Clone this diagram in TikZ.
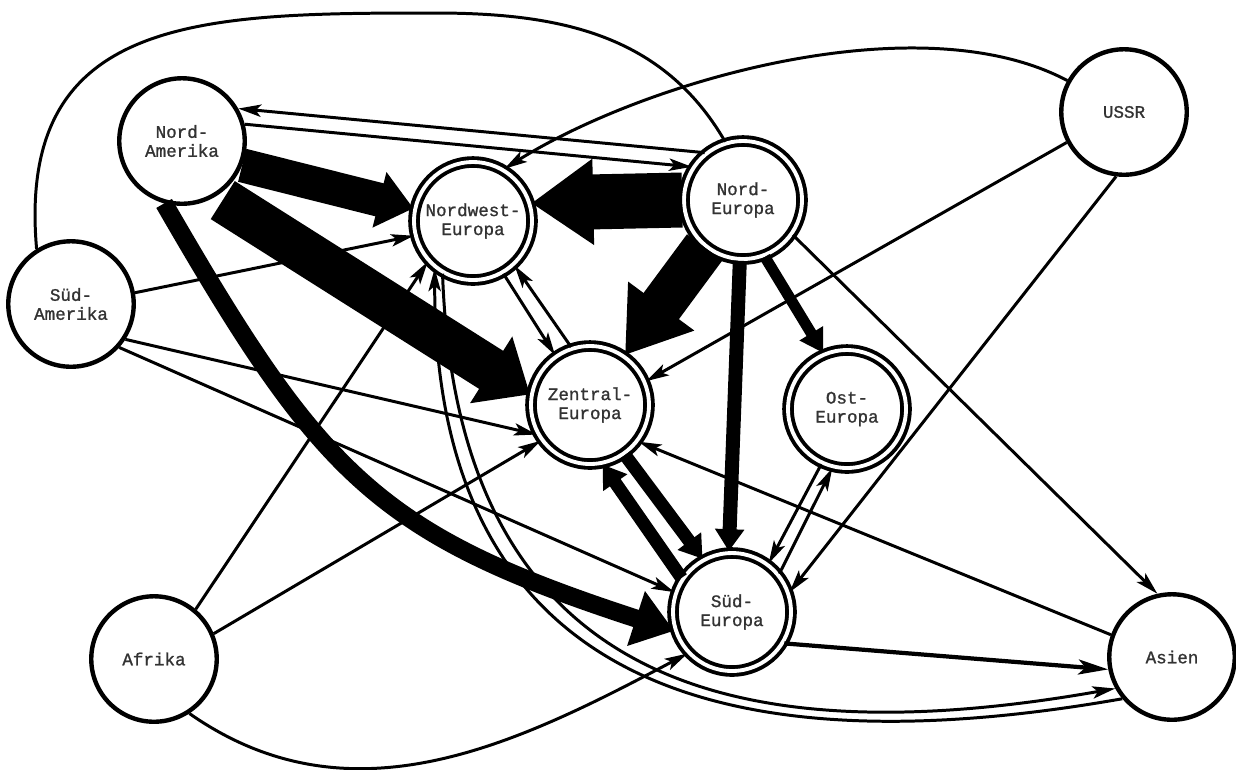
\documentclass[tikz,border=0pt]{standalone}
\usepackage{fontspec}
\setmonofont[FakeBold=1.2]{Liberation Mono}
\usetikzlibrary{arrows.meta}

\begin{document}
\begin{tikzpicture}[x=0.02cm,y=-0.02cm,
  region/.style={circle,draw,line width=2.5pt,minimum size=2.51cm,inner sep=0pt,
    align=center,text=black!80,font=\ttfamily\fontsize{10}{10.8}\selectfont},
  euro/.style={region,line width=2.2pt,double,double distance=2.2pt,minimum size=2.36cm},
  link/.style={line width=1.7pt},
  flow/.style={link,-{Stealth[length=13pt,width=7pt,inset=3pt]}},
  bulk/.style n args={3}{line width=#1,-{Triangle[width=#2,length=#3]}},
]
  % picture measured in pixels of the scan, y pointing down
  \useasboundingbox (0,0) rectangle (1236,769);

  % regions outside Europe (single ring)
  \node[region] (NA)   at (182,141)  {Nord-\\Amerika};
  \node[region] (SA)   at (71,304)   {Süd-\\Amerika};
  \node[region] (AF)   at (154,659)  {Afrika};
  \node[region] (USSR) at (1124,112) {USSR};
  \node[region] (AS)   at (1172,657) {Asien};

  % European regions (double ring)
  \node[euro] (NWE) at (473,221) {Nordwest-\\Europa};
  \node[euro] (NE)  at (743,200) {Nord-\\Europa};
  \node[euro] (ZE)  at (590,405) {Zentral-\\Europa};
  \node[euro] (OE)  at (847,409) {Ost-\\Europa};
  \node[euro] (SE)  at (732,612) {Süd-\\Europa};

  % long arcs over the top
  \coordinate (arcTop) at (435,13);
  \draw[link] (SA.122) to[out=95,in=180,looseness=1.3] (arcTop) to[out=0,in=120] (NE.107);
  \draw[flow] (USSR.151) to[out=152,in=32,looseness=0.75] (NWE.59);

  % --- heavy flows: block arrows, width ~ volume
  \draw[bulk={0.68cm}{1.1cm}{0.7cm}] (NA.-22) -- (NWE.168);
  \draw[bulk={0.9cm}{1.52cm}{0.92cm},shorten <=0.15cm] (NA.-58) -- (ZE.170);
  \draw[bulk={1.1cm}{1.64cm}{1.24cm}] (NE.180) -- (NWE.17);
  \draw[bulk={0.88cm}{1.56cm}{1.22cm}] (NE.231) -- (ZE.55);
  \draw[bulk={0.36cm}{1.1cm}{0.8cm}] (NA.-106) to[out=-60,in=162,looseness=1.2] (SE.198);
  \draw[bulk={0.28cm}{0.56cm}{0.44cm}] (NE.-93) -- (SE.93);
  \draw[bulk={0.22cm}{0.52cm}{0.46cm}] (NE.-69) -- (OE.113);
  \draw[bulk={0.26cm}{0.56cm}{0.44cm}] (ZE.-55) -- (SE.119);
  \draw[bulk={0.26cm}{0.56cm}{0.44cm}] (SE.146) -- (ZE.-78);

  % --- light flows
  \draw[flow] (NE.129) -- (NA.30);
  \draw[flow] (NA.15) -- (NE.147);
  \draw[flow] (SA.10) -- (NWE.194);
  \draw[flow] (SA.-33) -- (ZE.209);
  \draw[flow] (SA.-42) -- (SE.161);
  \draw[flow] (AF.50) -- (NWE.-138);
  \draw[flow] (AF.23) -- (ZE.-144);
  \draw[flow] (AF.-57) to[out=-35,in=208] (SE.-137);
  \draw[flow] (USSR.208) -- (ZE.23);
  \draw[flow] (USSR.-97) -- (SE.19);
  \draw[flow] (NE.-35) -- (AS.103);
  \draw[flow] (AS.160) -- (ZE.-37);
  \draw[flow] (NWE.-60) -- (ZE.125);
  \draw[flow] (ZE.108) -- (NWE.-47);
  \draw[flow] (OE.-115) -- (SE.53);
  \draw[flow] (SE.39) -- (OE.-104);
  \draw[flow,line width=2.4pt,-{Stealth[length=17pt,width=8.5pt,inset=4pt]}] (SE.-31) -- (AS.191);

  % double line Nordwest-Europa <-> Asien
  \draw[flow] (NWE.-120) to[out=-88,in=190,looseness=1.3] (AS.209);
  \draw[flow] (AS.220) to[out=190,in=-90,looseness=1.3] (NWE.-129);
\end{tikzpicture}
\end{document}
